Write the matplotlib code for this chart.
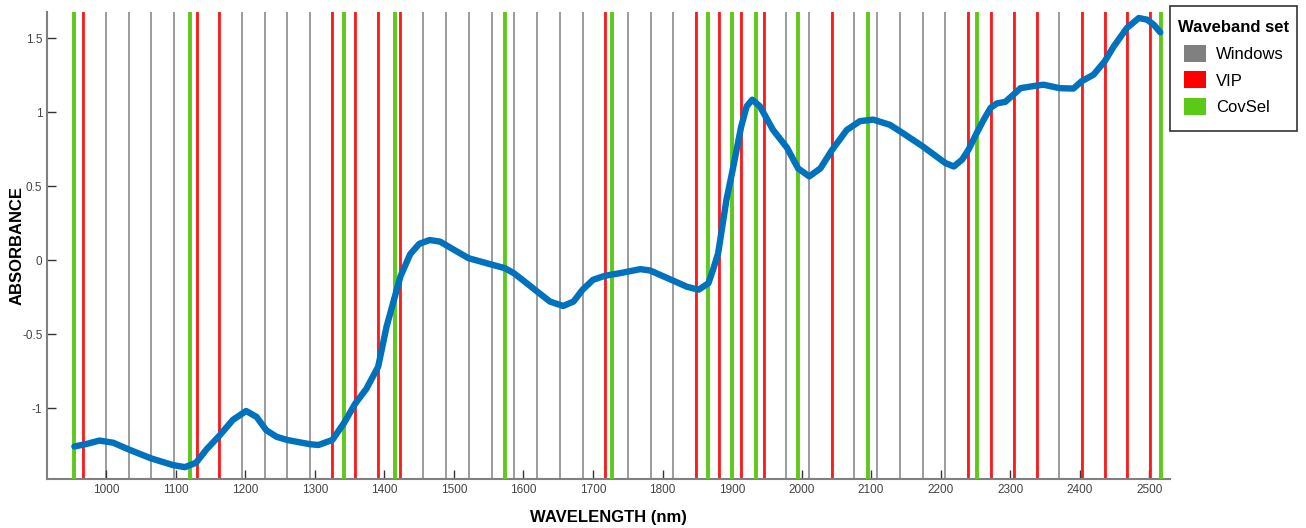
import matplotlib.pyplot as plt
from matplotlib.patches import Patch, Rectangle

plt.rcParams['font.family'] = ['Liberation Sans', 'DejaVu Sans']

# window centres (nm)
windows = [966, 999, 1032, 1064, 1097, 1130, 1162, 1195, 1228, 1260, 1293, 1325,
           1358, 1391, 1423, 1456, 1489, 1521, 1554, 1587, 1619, 1652, 1685, 1717,
           1750, 1783, 1815, 1848, 1881, 1913, 1946, 1978, 2011, 2044, 2076, 2109,
           2142, 2174, 2207, 2240, 2272, 2305, 2338, 2370, 2403, 2436, 2468, 2501]
vip = [966, 1130, 1162, 1325, 1358, 1391, 1423, 1717, 1848, 1881, 1913, 1946,
       2044, 2240, 2272, 2305, 2338, 2403, 2436, 2468, 2501]
covsel = [954, 1121, 1342, 1415, 1573, 1727, 1866, 1900, 1935, 1995, 2095, 2252, 2517]

wavelength = [954, 970, 990, 1010, 1032, 1064, 1095, 1113, 1129, 1144, 1162, 1182,
              1201, 1216, 1230, 1245, 1260, 1293, 1305, 1325, 1342, 1358, 1374, 1391,
              1403, 1415, 1423, 1437, 1450, 1465, 1480, 1500, 1521, 1554, 1573, 1586,
              1603, 1619, 1638, 1657, 1672, 1685, 1700, 1717, 1739, 1768, 1782, 1815,
              1835, 1852, 1866, 1873, 1880, 1892, 1900, 1913, 1921, 1929, 1940, 1959,
              1979, 1995, 2011, 2027, 2044, 2065, 2084, 2103, 2127, 2142, 2174, 2207,
              2219, 2231, 2240, 2252, 2262, 2272, 2281, 2293, 2305, 2315, 2338, 2348,
              2371, 2391, 2403, 2420, 2436, 2449, 2468, 2485, 2497, 2507, 2516]
absorbance = [-1.26, -1.245, -1.22, -1.235, -1.28, -1.34, -1.385, -1.40, -1.37, -1.28,
              -1.19, -1.08, -1.02, -1.06, -1.15, -1.195, -1.216, -1.245, -1.25, -1.216,
              -1.10, -0.97, -0.87, -0.72, -0.45, -0.246, -0.11, 0.04, 0.11, 0.136,
              0.125, 0.07, 0.013, -0.03, -0.054, -0.088, -0.15, -0.21, -0.28, -0.31,
              -0.28, -0.20, -0.133, -0.106, -0.088, -0.061, -0.07, -0.138, -0.18, -0.20,
              -0.156, -0.06, 0.047, 0.41, 0.59, 0.90, 1.04, 1.085, 1.04, 0.88,
              0.76, 0.62, 0.566, 0.62, 0.746, 0.88, 0.94, 0.95, 0.915, 0.87, 0.77, 0.656,
              0.633, 0.68, 0.746, 0.86, 0.95, 1.03, 1.06, 1.07, 1.12, 1.163, 1.18, 1.186,
              1.163, 1.16, 1.21, 1.254, 1.344, 1.445, 1.57, 1.637, 1.626, 1.59, 1.54]

gray = '#949494'
red = '#ff1a1a'
green = '#5fc91a'
blue = '#0072bd'

W, H = 1306, 528
fig = plt.figure(figsize=(W / 100, H / 100), dpi=100)
ax = fig.add_axes([0.0362, 0.0928, 0.8597, 0.8851])

for w in windows:
    ax.axvline(w, color=gray, lw=1.3, zorder=1)
for w in vip:
    ax.axvline(w, color=red, lw=2.0, zorder=2)
for w in covsel:
    ax.axvline(w, color=green, lw=2.8, zorder=3)

ax.plot(wavelength, absorbance, color=blue, lw=4.6, solid_joinstyle='round',
        solid_capstyle='round', zorder=4)

ax.set_xlim(915, 2530)
ax.set_ylim(-1.48, 1.68)
ax.set_xticks(range(1000, 2600, 100))
ax.set_yticks([-1, -0.5, 0, 0.5, 1, 1.5])
ax.set_yticklabels(['-1', '-0.5', '0', '0.5', '1', '1.5'])
ax.tick_params(direction='in', length=6.5, width=1, color='#333333',
               labelsize=8.5, labelcolor='#444444')
for s in ['top', 'right']:
    ax.spines[s].set_visible(False)
for s in ['left', 'bottom']:
    ax.spines[s].set_color('#808080')
    ax.spines[s].set_linewidth(1.5)

ax.set_xlabel('WAVELENGTH (nm)', fontsize=12, fontweight='bold', labelpad=10)
ax.set_ylabel('ABSORBANCE', fontsize=12, fontweight='bold')
ax.yaxis.set_label_coords(-0.0205, 0.5)

# legend box drawn by hand, the legend itself without frame
box = Rectangle((1170 / W, 1 - 131 / H), 127 / W, 125 / H, transform=fig.transFigure,
                facecolor='white', edgecolor='#333333', linewidth=1.2)
fig.patches.append(box)

handles = [Patch(facecolor='#808080', label='Windows'),
           Patch(facecolor='#ff0000', label='VIP'),
           Patch(facecolor='#5dc917', label='CovSel')]
leg = fig.legend(handles=handles, title='Waveband set', loc='upper left',
                 bbox_to_anchor=(1178.5 / W, 1 - 20.5 / H), fontsize=12,
                 title_fontproperties={'weight': 'bold', 'size': 12},
                 handlelength=1.3, handleheight=1.2, handletextpad=0.6,
                 frameon=False, borderpad=0, labelspacing=0.56, borderaxespad=0)

fig.savefig('out.png', dpi=100)
